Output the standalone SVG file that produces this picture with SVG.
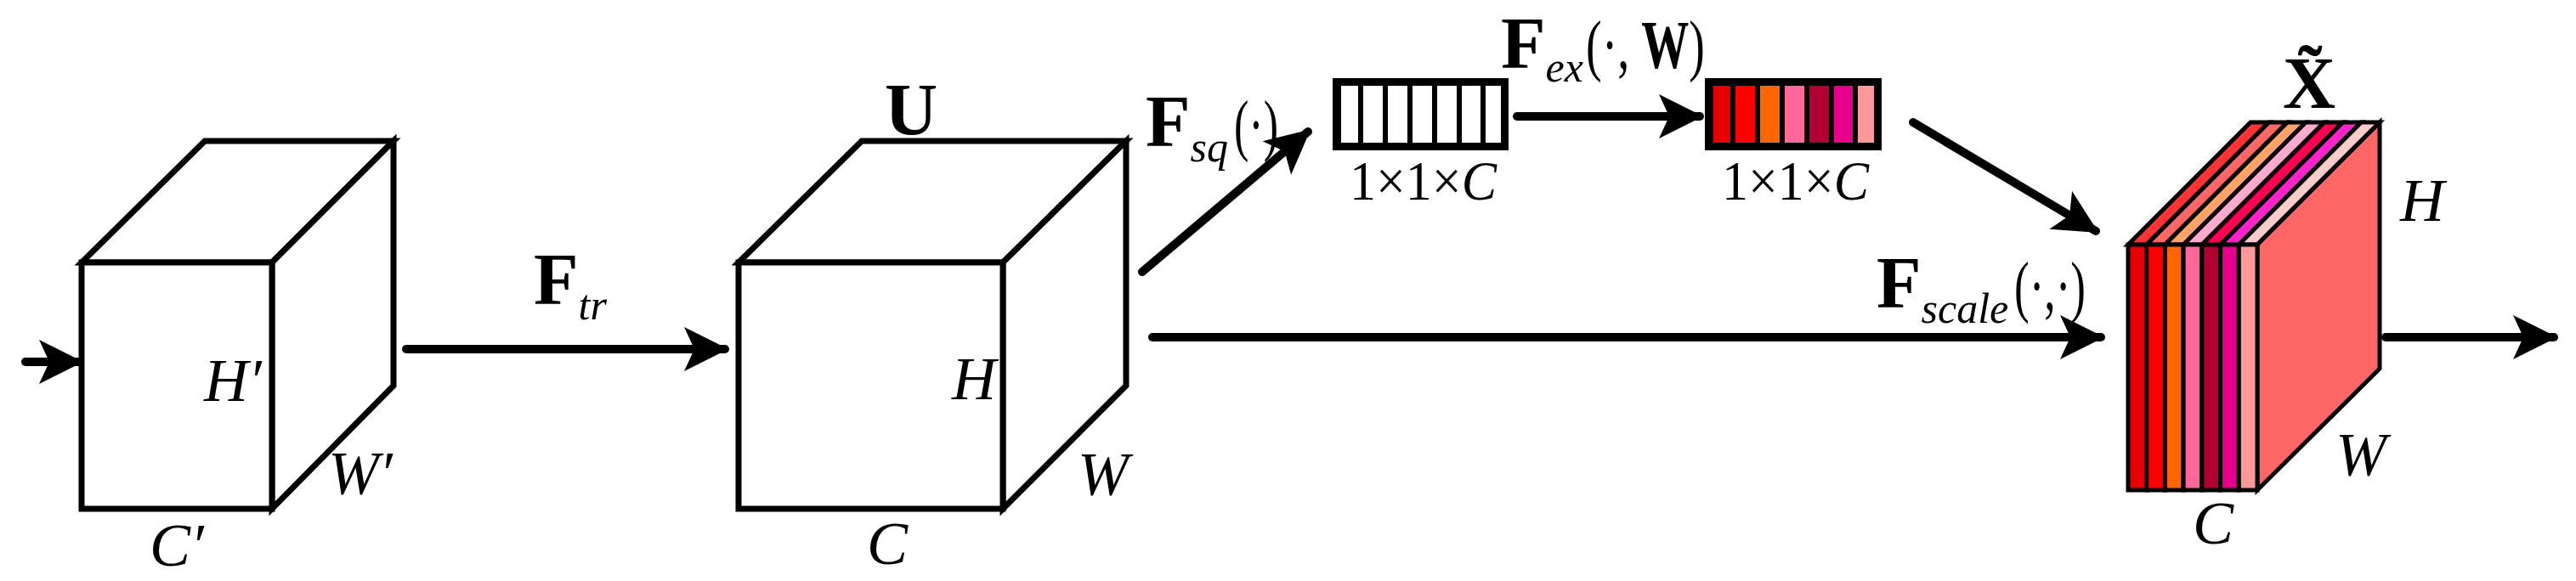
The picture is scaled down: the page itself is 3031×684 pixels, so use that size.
<svg xmlns="http://www.w3.org/2000/svg" width="3031" height="684" viewBox="0 0 3031 684">
<style>
.e{stroke:#000;stroke-width:7;stroke-linejoin:miter;fill:#fff}
.c{stroke:#000;stroke-width:5;stroke-linejoin:miter}
.a{stroke:#000;stroke-width:10;fill:none;stroke-linecap:round}
text{font-family:"Liberation Serif","Times New Roman",serif;fill:#000}
.i{font-style:italic;font-size:72px}
.b{font-weight:bold;font-size:86px}
.s{font-style:italic;font-size:50px}
.p{font-size:80px}
.d{font-size:66px}
</style>
<defs>
<marker id="ar" markerUnits="userSpaceOnUse" markerWidth="70" markerHeight="70" viewBox="-5 -35 70 70" refX="48" refY="0" orient="auto">
<path d="M0,-26 L52,0 L0,26 L12,0 Z" fill="#000"/>
</marker>
</defs>
<rect width="3031" height="684" fill="#fff"/>
<g id="cube1">
<polygon class="e" points="96,309 241,166 463,166 320,309"/>
<polygon class="e" points="320,309 463,166 463,454 320,599"/>
<rect class="e" x="96" y="309" width="224" height="290"/>
<text class="i" x="240" y="472">H′</text>
<text class="i" x="386" y="581">W′</text>
<text class="i" x="176" y="666">C′</text>
</g>
<g id="cube2">
<polygon class="e" points="869,309 1014,166 1325,166 1180,309"/>
<polygon class="e" points="1180,309 1325,166 1325,454 1180,599"/>
<rect class="e" x="869" y="309" width="311" height="290"/>
<text class="b" x="1072" y="158" text-anchor="middle" font-size="56">U</text>
<text class="i" x="1120" y="470">H</text>
<text class="i" x="1268" y="582">W</text>
<text class="i" x="1020" y="664">C</text>
</g>
<g id="vec1">
<rect x="1568" y="92" width="207" height="85" fill="#000"/>
<g fill="#fff">
<rect x="1578" y="101" width="20" height="67"/><rect x="1604" y="101" width="23" height="67"/><rect x="1633" y="101" width="23" height="67"/><rect x="1662" y="101" width="23" height="67"/><rect x="1691" y="101" width="23" height="67"/><rect x="1720" y="101" width="22" height="67"/><rect x="1748" y="101" width="18" height="67"/>
</g>
<text class="d" x="1588" y="235" textLength="173" lengthAdjust="spacingAndGlyphs">1×1×<tspan font-style="italic">C</tspan></text>
</g>
<g id="vec2">
<rect x="2006" y="92" width="208" height="85" fill="#000"/>
<rect x="2016" y="101" width="20" height="67" fill="#e60000"/><rect x="2042" y="101" width="23" height="67" fill="#ff0000"/><rect x="2071" y="101" width="23" height="67" fill="#ff6600"/><rect x="2100" y="101" width="23" height="67" fill="#ff6699"/><rect x="2129" y="101" width="23" height="67" fill="#b30033"/><rect x="2158" y="101" width="22" height="67" fill="#e6008c"/><rect x="2186" y="101" width="19" height="67" fill="#ff9999"/>
<text class="d" x="2026" y="235" textLength="173" lengthAdjust="spacingAndGlyphs">1×1×<tspan font-style="italic">C</tspan></text>
</g>
<g id="cube3">
<polygon class="c" points="2504,288 2648,144 2669.7,144 2525.7,288" fill="#ff3333"/>
<polygon class="c" points="2525.7,288 2669.7,144 2691.4,144 2547.4,288" fill="#ff6666"/>
<polygon class="c" points="2547.4,288 2691.4,144 2713.1,144 2569.1,288" fill="#ffa366"/>
<polygon class="c" points="2569.1,288 2713.1,144 2734.9,144 2590.9,288" fill="#ffaacc"/>
<polygon class="c" points="2590.9,288 2734.9,144 2756.6,144 2612.6,288" fill="#ff0055"/>
<polygon class="c" points="2612.6,288 2756.6,144 2778.3,144 2634.3,288" fill="#ff22cc"/>
<polygon class="c" points="2634.3,288 2778.3,144 2800,144 2656,288" fill="#ffcccc"/>
<polygon class="c" points="2656,288 2800,144 2800,434 2656,577" fill="#ff6666"/>
<rect class="c" x="2504" y="288" width="21.7" height="289" fill="#e60000"/>
<rect class="c" x="2525.7" y="288" width="21.7" height="289" fill="#ff0000"/>
<rect class="c" x="2547.4" y="288" width="21.7" height="289" fill="#ff6600"/>
<rect class="c" x="2569.1" y="288" width="21.8" height="289" fill="#ff6699"/>
<rect class="c" x="2590.9" y="288" width="21.7" height="289" fill="#b30033"/>
<rect class="c" x="2612.6" y="288" width="21.7" height="289" fill="#e6008c"/>
<rect class="c" x="2634.3" y="288" width="21.7" height="289" fill="#ff9999"/>
<text class="b" x="2717" y="127" text-anchor="middle" font-size="58">X̃</text>
<text class="i" x="2824" y="260">H</text>
<text class="i" x="2748" y="559">W</text>
<text class="i" x="2580" y="640">C</text>
</g>
<g id="connectors">
<line class="a" x1="30" y1="426" x2="94" y2="426" marker-end="url(#ar)"/>
<line class="a" x1="478" y1="411" x2="853" y2="411" marker-end="url(#ar)"/>
<line class="a" x1="1344" y1="320" x2="1539" y2="155" marker-end="url(#ar)"/>
<line class="a" x1="1785" y1="137" x2="2000" y2="137" marker-end="url(#ar)"/>
<line class="a" x1="2251" y1="144" x2="2466" y2="272" marker-end="url(#ar)"/>
<line class="a" x1="1356" y1="397" x2="2472" y2="397" marker-end="url(#ar)"/>
<line class="a" x1="2807" y1="397" x2="3005" y2="397" marker-end="url(#ar)"/>
</g>
<g id="labels">
<text x="628" y="358"><tspan class="b">F</tspan><tspan class="s" dy="18">tr</tspan></text>
<text x="1348" y="172"><tspan class="b">F</tspan><tspan class="s" dy="18">sq</tspan></text>
<text class="p" x="1452" y="174" textLength="52" lengthAdjust="spacingAndGlyphs">(·)</text>
<text x="1766" y="80"><tspan class="b">F</tspan><tspan class="s" dy="16">ex</tspan></text>
<text class="p" x="1866" y="80" textLength="140" lengthAdjust="spacingAndGlyphs">(·, <tspan font-weight="bold">W</tspan>)</text>
<text x="2208" y="362"><tspan class="b">F</tspan><tspan class="s" dy="18">scale</tspan></text>
<text class="p" x="2370" y="364" textLength="84" lengthAdjust="spacingAndGlyphs">(·,·)</text>
</g>
</svg>
